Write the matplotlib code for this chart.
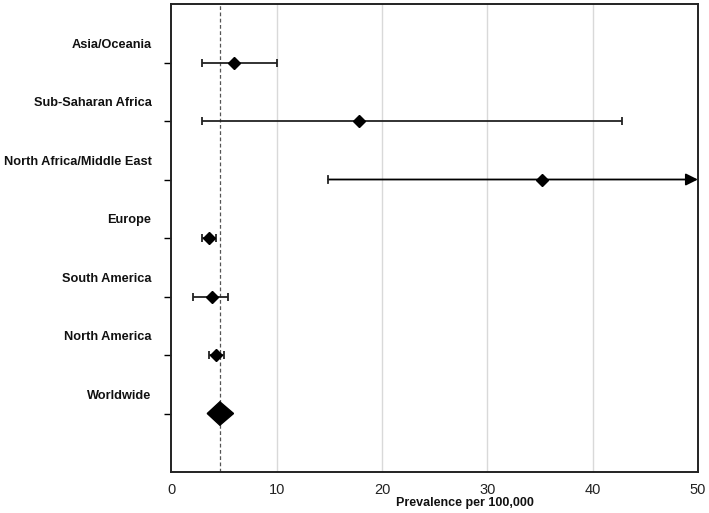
import numpy as np
import matplotlib
matplotlib.use('Agg')
import matplotlib.pyplot as plt
from matplotlib.transforms import blended_transform_factory

plt.rcParams['font.family'] = ['Liberation Sans', 'DejaVu Sans']

# data
regions = ['Asia/Oceania', 'Sub-Saharan Africa', 'North Africa/Middle East',
           'Europe', 'South America', 'North America']
est = [5.95, 17.8, 35.2, 3.57, 3.88, 4.26]
lo = [2.93, 2.9, 14.9, 2.93, 2.07, 3.53]
hi = [10.0, 42.8, 50.0, 4.27, 5.37, 4.96]
clipped = [False, False, True, False, False, False]  # upper CI goes past axis

world_label = 'Worldwide'
world_est = 4.6
world_lo = 3.4
world_hi = 5.9

xmax = 50
xticks = [0, 10, 20, 30, 40, 50]

fig = plt.figure(figsize=(7.09, 5.13), dpi=100)
ax = fig.add_axes([0.2418, 0.0799, 0.7425, 0.9123])

n = len(regions)
ypos = np.arange(n + 1, 1, -1)  # 7 .. 2
est = np.array(est)
lo = np.array(lo)
hi = np.array(hi)

for g in xticks[1:-1]:
    ax.axvline(g, color='#d9d9d9', lw=1, zorder=0)
ax.axvline(world_est, color='#555555', lw=0.9, ls=(0, (3, 2)), zorder=1)

for i in range(n):
    y = ypos[i]
    if clipped[i]:
        ax.annotate('', xy=(hi[i], y), xytext=(lo[i], y),
                    arrowprops=dict(arrowstyle='-|>', color='black', lw=1.3,
                                    mutation_scale=18, shrinkA=0, shrinkB=0),
                    zorder=2)
        ax.plot([lo[i], lo[i]], [y - 0.06, y + 0.06], color='#222222', lw=1.3, zorder=2)
    else:
        ax.errorbar(est[i], y, xerr=[[est[i] - lo[i]], [hi[i] - est[i]]],
                    fmt='none', ecolor='#222222', elinewidth=1.3, capsize=3,
                    capthick=1.3, zorder=2)
    ax.plot(est[i], y, marker='D', color='black', ms=6, zorder=3)

# pooled estimate diamond
h = 0.2
ax.fill([world_lo, world_est, world_hi, world_est], [1, 1 + h, 1, 1 - h],
        color='black', zorder=3)

ax.set_xlim(0, xmax)
ax.set_ylim(0, 8)
ax.set_xticks(xticks)
ax.set_xticklabels([str(t) for t in xticks], fontsize=10.5, color='#222222')
ax.tick_params(axis='x', length=0, pad=8)
ax.set_yticks(list(ypos) + [1])
ax.set_yticklabels([])
ax.tick_params(axis='y', length=5, width=1, direction='out')

trans = blended_transform_factory(ax.transAxes, ax.transData)
for lab, y in zip(regions + [world_label], list(ypos) + [1]):
    ax.text(-0.038, y + 0.3, lab, transform=trans, ha='right', va='center',
            fontsize=9.2, fontweight='bold', color='#111111')

ax.text(0.558, -0.067, 'Prevalence per 100,000', transform=ax.transAxes,
        ha='center', va='center', fontsize=9, fontweight='bold', color='#111111')

for s in ax.spines.values():
    s.set_linewidth(1.4)
    s.set_color('#222222')

fig.savefig('out.png', dpi=100)
